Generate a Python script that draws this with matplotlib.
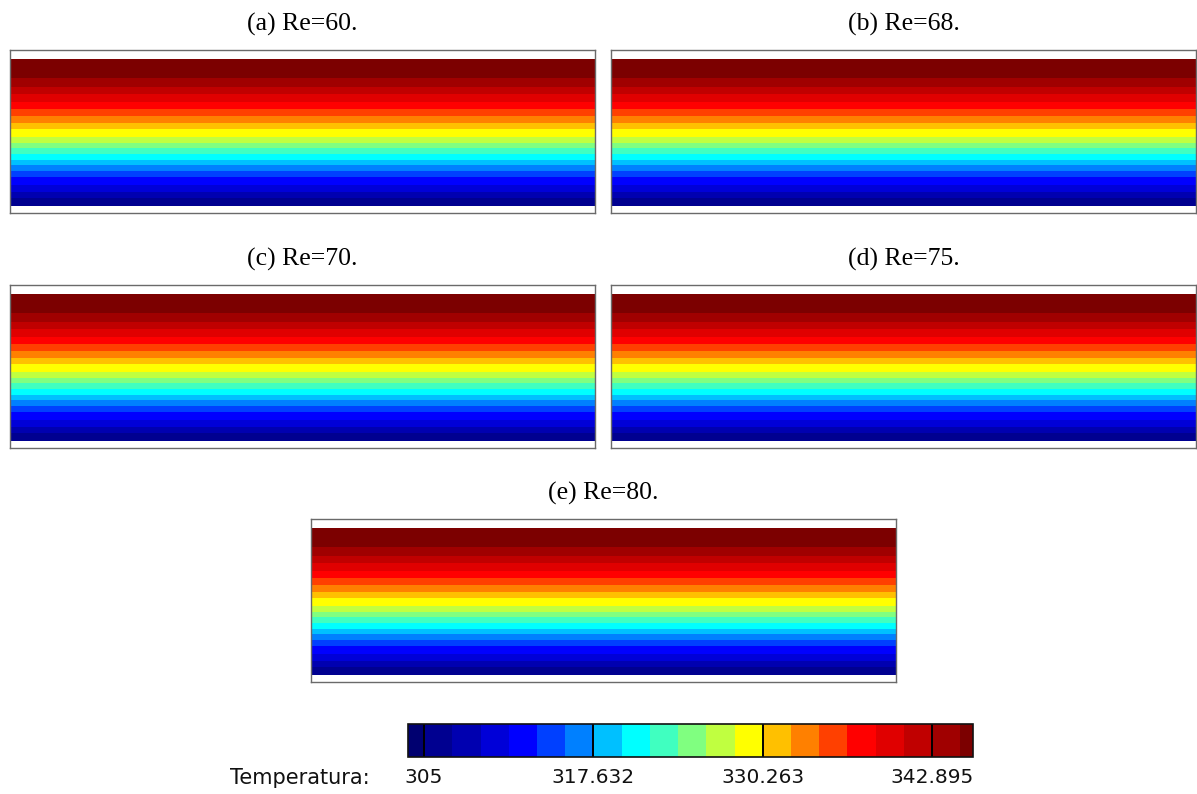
import numpy as np
import matplotlib
matplotlib.use("Agg")
import matplotlib.pyplot as plt
from matplotlib.colors import ListedColormap, BoundaryNorm
from matplotlib.cm import ScalarMappable

# ---- data ----
titles = ["(a) Re=60.", "(b) Re=68.", "(c) Re=70.", "(d) Re=75.", "(e) Re=80."]

# vertical temperature profile (fraction of channel height from bottom, K)
profile_y = [0.000, 0.0525, 0.0975, 0.1432, 0.1997, 0.2406, 0.2795, 0.3136,
             0.3545, 0.3933, 0.4315, 0.4724, 0.5228, 0.5678, 0.6135, 0.6612,
             0.7069, 0.7614, 0.8132, 0.8705, 1.000]
profile_T = [305.05, 307.105, 309.211, 311.316, 313.421, 315.526, 317.632,
             319.737, 321.842, 323.947, 326.053, 328.158, 330.263, 332.368,
             334.474, 336.579, 338.684, 340.789, 342.895, 345.0, 345.95]

# contour levels (colorbar cells)
T_min, T_max = 303.8, 345.95
inner_levels = [305.0, 307.105, 309.211, 311.316, 313.421, 315.526, 317.632,
                319.737, 321.842, 323.947, 326.053, 328.158, 330.263, 332.368,
                334.474, 336.579, 338.684, 340.789, 342.895, 345.0]
tick_values = [305.0, 317.632, 330.263, 342.895]
tick_labels = ["305", "317.632", "330.263", "342.895"]
band_colors = ["#000070", "#000090", "#0000B0", "#0000D8", "#0000FF", "#0040FF",
               "#0080FF", "#00C0FF", "#00FFFF", "#40FFC0", "#80FF80", "#C0FF40",
               "#FFFF00", "#FFC000", "#FF8000", "#FF4000", "#FF0000", "#E00000",
               "#C00000", "#A00000", "#7C0000"]

levels = [T_min] + inner_levels + [T_max]
cmap = ListedColormap(band_colors)
norm = BoundaryNorm(levels, cmap.N)

fig = plt.figure(figsize=(11.97, 7.94), dpi=100)
W, H = 1197.0, 794.0

def add_ax(x0, y0, x1, y1):
    return fig.add_axes([x0 / W, 1 - y1 / H, (x1 - x0) / W, (y1 - y0) / H])

panel_boxes = [(10, 50, 595, 213), (611, 50, 1196, 213),
               (10, 285, 595, 448), (611, 285, 1196, 448),
               (311, 519, 896, 682)]

x_grid = np.array([0.0, 1.0])
y_grid = np.array(profile_y)
Z = np.column_stack([profile_T, profile_T])

for box, title in zip(panel_boxes, titles):
    ax = add_ax(*box)
    ax.contourf(x_grid, y_grid, Z, levels=levels, cmap=cmap, norm=norm)
    ax.set_xlim(0, 1)
    ax.set_ylim(-0.048, 1.063)
    ax.set_xticks([])
    ax.set_yticks([])
    for s in ax.spines.values():
        s.set_color("#6a6a6a")
        s.set_linewidth(1.0)
    ax.set_title(title, fontsize=18.5, family="Liberation Serif", pad=14)

# colorbar
cax = add_ax(408, 724, 973, 757)
sm = ScalarMappable(norm=norm, cmap=cmap)
cb = fig.colorbar(sm, cax=cax, orientation="horizontal", boundaries=levels,
                  spacing="proportional")
cb.outline.set_edgecolor("#111111")
cb.outline.set_linewidth(1.2)
cax.set_xlim(T_min, T_max)
for tv in tick_values:
    cax.axvline(tv, color="black", lw=1.4)
cax.minorticks_off()
cax.set_xticks(tick_values)
cax.set_xticks([], minor=True)
cax.set_xticklabels(tick_labels, fontsize=14.5, family="DejaVu Sans", color="#111111")
cax.tick_params(axis="x", which="both", length=0, pad=8)
fig.text(370 / W, 1 - 778 / H, "Temperatura:", ha="right", va="center",
         fontsize=15, family="DejaVu Sans", color="#111111")

fig.savefig("out.png", dpi=100, facecolor="white")
